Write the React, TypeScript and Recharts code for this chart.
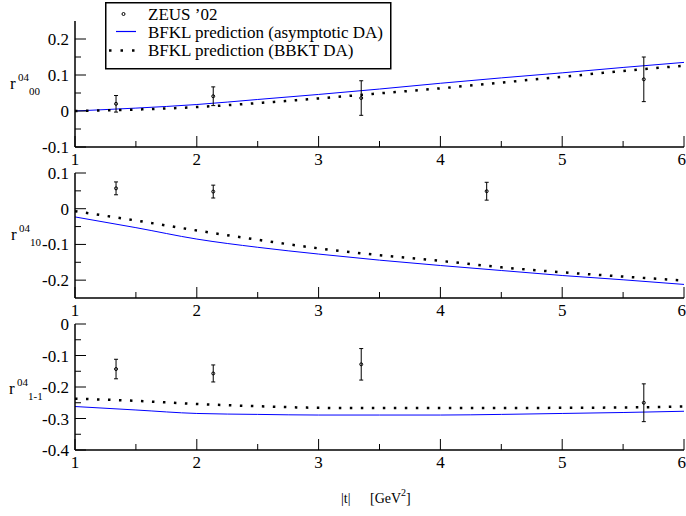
import React from "react";
import {
  ComposedChart,
  Line,
  Scatter,
  ErrorBar,
  XAxis,
  YAxis,
  Legend,
} from "recharts";

// |t| grid of the BFKL curves
const tCurve = [1, 1.5, 2, 2.5, 3, 3.5, 4, 4.5, 5, 5.5, 6];

// r^04_00
const r00Asym = [0, 0.008, 0.018, 0.032, 0.046, 0.061, 0.077, 0.092, 0.106, 0.121, 0.135];
const r00Bbkt = [0, 0.004, 0.011, 0.022, 0.035, 0.049, 0.063, 0.079, 0.095, 0.111, 0.126];
const t00 = [1.337, 2.135, 3.35, 5.67];
const r00Zeus = [0.02, 0.041, 0.036, 0.088];
const r00Err = [0.023, 0.026, 0.048, 0.062];

// r^04_10
const r10Asym = [-0.023, -0.053, -0.085, -0.108, -0.127, -0.144, -0.159, -0.173, -0.187, -0.199, -0.212];
const r10Bbkt = [-0.007, -0.033, -0.061, -0.087, -0.111, -0.13, -0.146, -0.164, -0.178, -0.19, -0.201];
const t10 = [1.337, 2.135, 4.38];
const r10Zeus = [0.057, 0.048, 0.049];
const r10Err = [0.018, 0.018, 0.025];

// r^04_1-1
const r1m1Asym = [-0.262, -0.273, -0.284, -0.287, -0.289, -0.289, -0.289, -0.287, -0.284, -0.281, -0.277];
const r1m1Bbkt = [-0.237, -0.244, -0.254, -0.261, -0.266, -0.267, -0.267, -0.267, -0.266, -0.265, -0.262];
const t1m1 = [1.337, 2.135, 3.35, 5.67];
const r1m1Zeus = [-0.143, -0.157, -0.128, -0.25];
const r1m1Err = [0.031, 0.027, 0.05, 0.06];

// axis ticks
const xTicks = [1, 1.5, 2, 2.5, 3, 3.5, 4, 4.5, 5, 5.5, 6];
const yTicks00 = [-0.1, -0.05, 0, 0.05, 0.1, 0.15, 0.2];
const yTicks10 = [-0.2, -0.15, -0.1, -0.05, 0, 0.05, 0.1];
const yTicks1m1 = [-0.4, -0.35, -0.3, -0.25, -0.2, -0.15, -0.1, -0.05, 0];

const legendNames = [
  "ZEUS \u201902",
  "BFKL prediction (asymptotic DA)",
  "BFKL prediction (BBKT DA)",
];

const FONT = "'Liberation Serif', 'Times New Roman', serif";
const TICK_FS = 17;
const MAJOR = 11;
const MINOR = 6;

const isMajorX = (v: number) => Math.abs(v - Math.round(v)) < 1e-6;
const isMajorY = (v: number) => Math.abs(v * 10 - Math.round(v * 10)) < 1e-6;
const fmt = (v: number) => String(Math.round(v * 100) / 100);

const curve = (ys: number[]) => tCurve.map((t, i) => ({ t, v: ys[i] }));
const points = (ts: number[], ys: number[], errs: number[]) =>
  ts.map((t, i) => ({ t, v: ys[i], err: errs[i] }));

const txt = { fontFamily: FONT, fill: "#000" };

// ticks all point into the plot, like the xmgrace original
const BottomTick = (p: any) => {
  const v = p.payload.value;
  const major = isMajorX(v);
  const last = v === xTicks[xTicks.length - 1];
  return (
    <g>
      <line x1={p.x} x2={p.x} y1={p.y} y2={p.y - (major ? MAJOR : MINOR)} stroke="#000" />
      {major && (
        <text
          x={last ? p.x + 2 : p.x}
          y={p.y + 18}
          textAnchor={last ? "end" : "middle"}
          fontSize={TICK_FS}
          style={txt}
        >
          {v}
        </text>
      )}
    </g>
  );
};

const TopTick = (p: any) => {
  const major = isMajorX(p.payload.value);
  return <line x1={p.x} x2={p.x} y1={p.y} y2={p.y + (major ? MAJOR : MINOR)} stroke="#000" />;
};

const LeftTick = (p: any) => {
  const major = isMajorY(p.payload.value);
  return (
    <g>
      <line x1={p.x} x2={p.x + (major ? MAJOR : MINOR)} y1={p.y} y2={p.y} stroke="#000" />
      {major && (
        <text x={p.x - 6} y={p.y + 6} textAnchor="end" fontSize={TICK_FS} style={txt}>
          {fmt(p.payload.value)}
        </text>
      )}
    </g>
  );
};

const RightTick = (p: any) => (
  <line x1={p.x} x2={p.x - 10} y1={p.y} y2={p.y} stroke="#000" />
);

const ZeusDot = (p: any) => (
  <circle cx={p.cx} cy={p.cy} r={1.5} fill="none" stroke="#000" strokeWidth={1} />
);

const LegendBox = () => (
  <svg width={287} height={68} style={{ display: "block" }}>
    <rect x={0.75} y={0.75} width={285} height={66} fill="#fff" stroke="#000" strokeWidth={1.5} />
    <circle cx={18.5} cy={12} r={1.5} fill="#fff" stroke="#000" />
    <line x1={11} x2={31} y1={29.5} y2={29.5} stroke="#0000ff" strokeWidth={1.2} />
    <line x1={4} x2={32} y1={48.5} y2={48.5} stroke="#000" strokeWidth={2.5} strokeDasharray="2.5 9" />
    {legendNames.map((name, i) => (
      <text key={name} x={43} y={17.5 + i * 18.3} fontSize={17} style={txt}>
        {name}
      </text>
    ))}
  </svg>
);

interface PanelProps {
  top: number;
  height: number;
  margin: { top: number; right: number; bottom: number; left: number };
  domain: [number, number];
  yTicks: number[];
  asym: number[];
  bbkt: number[];
  zeus: { t: number; v: number; err: number }[];
  legend?: boolean;
}

const axisLine = { stroke: "#000", strokeWidth: 1.5 };

const Panel: React.FC<PanelProps> = ({ top, height, margin, domain, yTicks, asym, bbkt, zeus, legend }) => (
  <div style={{ position: "absolute", left: 0, top, width: 686, height }}>
    <ComposedChart width={686} height={height} margin={margin}>
      <XAxis
        xAxisId="b"
        type="number"
        dataKey="t"
        domain={[1, 6]}
        allowDataOverflow
        ticks={xTicks}
        interval={0}
        tickSize={0}
        tickMargin={0}
        tickLine={false}
        axisLine={axisLine}
        tick={(p: any) => <BottomTick {...p} />}
        height={20}
      />
      <XAxis
        xAxisId="t"
        orientation="top"
        type="number"
        dataKey="t"
        domain={[1, 6]}
        allowDataOverflow
        ticks={xTicks}
        interval={0}
        tickSize={0}
        tickMargin={0}
        tickLine={false}
        axisLine={axisLine}
        tick={(p: any) => <TopTick {...p} />}
        height={0}
      />
      <YAxis
        yAxisId="l"
        type="number"
        domain={domain}
        allowDataOverflow
        ticks={yTicks}
        interval={0}
        tickSize={0}
        tickMargin={0}
        tickLine={false}
        axisLine={axisLine}
        tick={(p: any) => <LeftTick {...p} />}
        width={75}
      />
      <YAxis
        yAxisId="r"
        orientation="right"
        type="number"
        domain={domain}
        allowDataOverflow
        ticks={yTicks}
        interval={0}
        tickSize={0}
        tickMargin={0}
        tickLine={false}
        axisLine={axisLine}
        tick={(p: any) => <RightTick {...p} />}
        width={0}
      />
      <Line
        xAxisId="b"
        yAxisId="l"
        data={curve(asym)}
        dataKey="v"
        type="monotone"
        stroke="#0000ff"
        strokeWidth={1}
        dot={false}
        name={legendNames[1]}
        isAnimationActive={false}
      />
      <Line
        xAxisId="b"
        yAxisId="l"
        data={curve(bbkt)}
        dataKey="v"
        type="monotone"
        stroke="#000"
        strokeWidth={2.5}
        strokeDasharray="2.5 8.5"
        dot={false}
        name={legendNames[2]}
        isAnimationActive={false}
      />
      <Scatter
        xAxisId="b"
        yAxisId="l"
        data={zeus}
        dataKey="v"
        shape={(p: any) => <ZeusDot {...p} />}
        name={legendNames[0]}
        isAnimationActive={false}
      >
        <ErrorBar dataKey="err" direction="y" width={2} stroke="#000" strokeWidth={1} isAnimationActive={false} />
      </Scatter>
      {legend && (
        <Legend
          layout="vertical"
          align="center"
          verticalAlign="middle"
          content={() => <LegendBox />}
          wrapperStyle={{ left: 105, top: 2, width: 287, height: 68 }}
        />
      )}
    </ComposedChart>
  </div>
);

const RLabel = ({ x, y, sub }: { x: number; y: number; sub: string }) => (
  <g style={txt}>
    <text x={x} y={y} fontSize={17}>r</text>
    <text x={x + 8} y={y - 8.5} fontSize={11}>04</text>
    <text x={x + 19} y={y + 6} fontSize={11}>{sub}</text>
  </g>
);

export default function App() {
  return (
    <div style={{ position: "absolute", left: 0, top: 0, width: 686, height: 516, overflow: "hidden", background: "#fff" }}>
      <Panel
        top={0}
        height={170}
        margin={{ top: 21, right: 2, bottom: 3, left: 0 }}
        domain={[-0.1, 0.25]}
        yTicks={yTicks00}
        asym={r00Asym}
        bbkt={r00Bbkt}
        zeus={points(t00, r00Zeus, r00Err)}
        legend
      />
      <Panel
        top={150}
        height={170}
        margin={{ top: 23, right: 2, bottom: 2, left: 0 }}
        domain={[-0.25, 0.1]}
        yTicks={yTicks10}
        asym={r10Asym}
        bbkt={r10Bbkt}
        zeus={points(t10, r10Zeus, r10Err)}
      />
      <Panel
        top={300}
        height={180}
        margin={{ top: 24, right: 2, bottom: 10, left: 0 }}
        domain={[-0.4, 0]}
        yTicks={yTicks1m1}
        asym={r1m1Asym}
        bbkt={r1m1Bbkt}
        zeus={points(t1m1, r1m1Zeus, r1m1Err)}
      />
      <svg
        width={686}
        height={516}
        style={{ position: "absolute", left: 0, top: 0, pointerEvents: "none" }}
      >
        <RLabel x={10} y={89} sub="00" />
        <RLabel x={11} y={240} sub="10" />
        <RLabel x={9} y={394} sub="1-1" />
        <g style={txt} fontSize={14}>
          <text x={341} y={503}>|t|</text>
          <text x={370} y={503}>
            [GeV<tspan dy={-7} fontSize={10}>2</tspan>
            <tspan dy={7}>]</tspan>
          </text>
        </g>
      </svg>
    </div>
  );
}
